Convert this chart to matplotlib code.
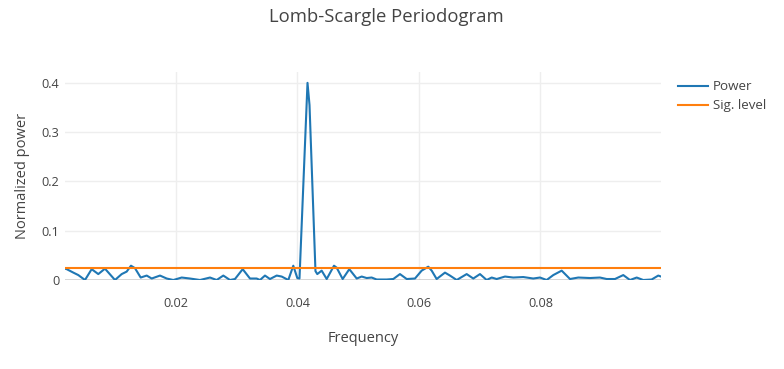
import matplotlib
matplotlib.use("Agg")
import matplotlib.pyplot as plt
from matplotlib.lines import Line2D

plt.rcParams['font.family'] = ['Open Sans', 'DejaVu Sans']

title = "Lomb-Scargle Periodogram"
x_label = "Frequency"
y_label = "Normalized power"
series_names = ["Power", "Sig. level"]

frequency = [
    0.00173, 0.00201, 0.00310, 0.00392, 0.00502, 0.00612, 0.00721, 0.00831, 0.00996,
    0.01106, 0.01188, 0.01259, 0.01325, 0.01419, 0.01518, 0.01600, 0.01737,
    0.01847, 0.01956, 0.02094, 0.02230, 0.02395, 0.02560, 0.02670, 0.02779,
    0.02889, 0.02971, 0.03098, 0.03218, 0.03328, 0.03383, 0.03465, 0.03547,
    0.03658, 0.03740, 0.03849, 0.03931, 0.03997, 0.04033, 0.04165, 0.04198,
    0.04296, 0.04326, 0.04398, 0.04481, 0.04601, 0.04645, 0.04744, 0.04853,
    0.04975, 0.05057, 0.05139, 0.05221, 0.05304, 0.05468, 0.05577, 0.05687,
    0.05798, 0.05934, 0.06044, 0.06153, 0.06209, 0.06291, 0.06428, 0.06510,
    0.06621, 0.06785, 0.06894, 0.07004, 0.07114, 0.07197, 0.07279, 0.07416,
    0.07552, 0.07717, 0.07881, 0.07992, 0.08102, 0.08211, 0.08349, 0.08486,
    0.08622, 0.08815, 0.08979, 0.09090, 0.09226, 0.09363, 0.09473, 0.09584,
    0.09692, 0.09830, 0.09939, 0.09984,
]
power = [
    0.023, 0.022, 0.015, 0.010, 0.000, 0.022, 0.012, 0.023, 0.000,
    0.012, 0.017, 0.029, 0.024, 0.005, 0.009, 0.003, 0.009,
    0.003, 0.000, 0.005, 0.003, 0.000, 0.005, 0.000, 0.009,
    0.000, 0.002, 0.022, 0.003, 0.003, 0.000, 0.009, 0.002,
    0.009, 0.007, 0.000, 0.029, 0.004, 0.003, 0.400, 0.355,
    0.018, 0.012, 0.019, 0.002, 0.029, 0.025, 0.002, 0.022,
    0.003, 0.007, 0.004, 0.005, 0.001, 0.001, 0.002, 0.012,
    0.002, 0.003, 0.019, 0.027, 0.019, 0.002, 0.015, 0.009,
    0.000, 0.012, 0.003, 0.012, 0.000, 0.005, 0.002, 0.007,
    0.005, 0.006, 0.003, 0.005, 0.000, 0.010, 0.019, 0.002,
    0.005, 0.004, 0.005, 0.002, 0.002, 0.010, 0.000, 0.005,
    0.000, 0.001, 0.009, 0.007,
]
sig_level = 0.0245

x_ticks = [0.02, 0.04, 0.06, 0.08]
x_tick_labels = ["0.02", "0.04", "0.06", "0.08"]
y_ticks = [0, 0.1, 0.2, 0.3, 0.4]
y_tick_labels = ["0", "0.1", "0.2", "0.3", "0.4"]

W, H = 784, 369
fig = plt.figure(figsize=(W / 100, H / 100), dpi=100)
ax = fig.add_axes([65 / W, (H - 280) / H, (661 - 65) / W, (280 - 72) / H])

blue = "#1f77b4"
orange = "#ff7f0e"
text_c = "#444444"

ax.plot(frequency, power, color=blue, lw=1.5, zorder=3)
ax.plot([frequency[0], frequency[-1]], [sig_level, sig_level], color=orange, lw=1.5, zorder=3)

ax.set_xlim(0.00173, 0.09984)
ax.set_ylim(0, 0.422)
ax.set_xticks(x_ticks)
ax.set_xticklabels(x_tick_labels)
ax.set_yticks(y_ticks)
ax.set_yticklabels(y_tick_labels)
ax.grid(True, color="#eeeeee", lw=1)
ax.axhline(0, color=text_c, lw=1, zorder=2)
for s in ax.spines.values():
    s.set_visible(False)
ax.tick_params(length=0, labelsize=9.2, colors=text_c)
ax.tick_params(axis='x', pad=12)
ax.tick_params(axis='y', pad=4)

fig.text(386 / W, 1 - 17 / H, title, ha="center", va="center", fontsize=13.3, color=text_c)
fig.text(363 / W, 1 - 339 / H, x_label, ha="center", va="center", fontsize=10.5, color=text_c)
fig.text(23 / W, 1 - 176 / H, y_label, ha="center", va="center", rotation=90, fontsize=10.5, color=text_c)

for i, (name, col) in enumerate(zip(series_names, [blue, orange])):
    y = 1 - (86 + 19 * i) / H
    fig.add_artist(Line2D([678 / W, 708 / W], [y, y], color=col, lw=1.5, transform=fig.transFigure))
    fig.text(713 / W, y, name, ha="left", va="center", fontsize=9.6, color=text_c)

fig.savefig("out.png", dpi=100)
